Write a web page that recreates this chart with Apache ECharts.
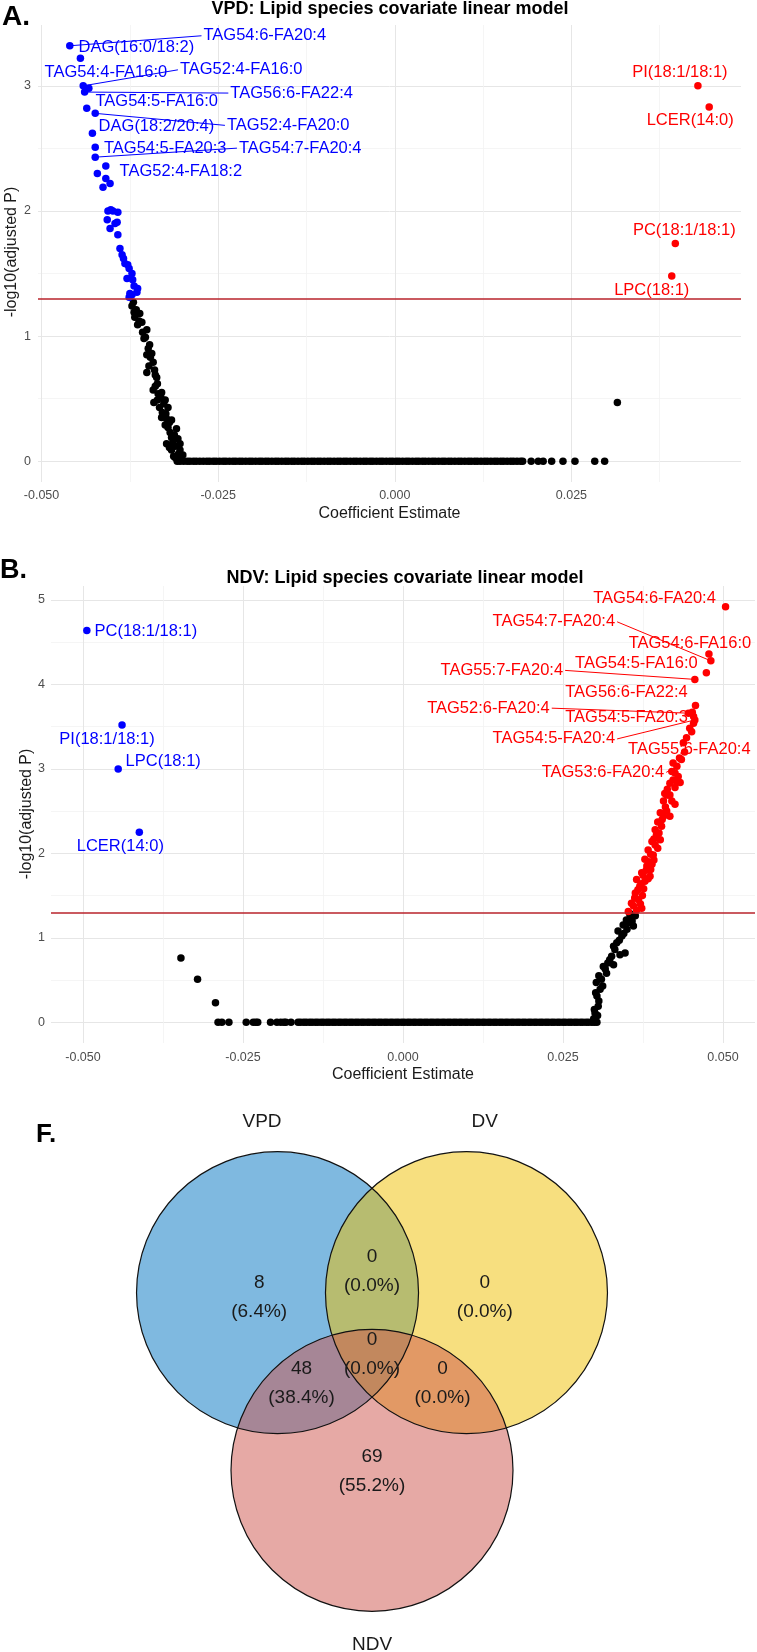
<!DOCTYPE html>
<html>
<head>
<meta charset="utf-8">
<title>Lipid species covariate linear model</title>
<script src="https://cdn.jsdelivr.net/npm/echarts@6/dist/echarts.min.js"></script>
<style>
html, body { margin: 0; padding: 0; background: #fff; }
#main { width: 757px; height: 1652px; }
</style>
</head>
<body>
<div id="main"></div>
<script>
var FONT = "'Liberation Sans', Arial, Helvetica, sans-serif";
var LABEL_SIZE = 16.5;

// ---------- A. VPD ----------
// species with adjusted p == 1 (sit on the zero line)
var vpdZeroX = [-0.0308, -0.0304, -0.0299, -0.0294, -0.0290, -0.0285, -0.0281, -0.0276, -0.0271, -0.0266,
	-0.0262, -0.0257, -0.0253, -0.0248, -0.0243, -0.0239, -0.0234, -0.0229, -0.0225, -0.0220, -0.0216,
	-0.0211, -0.0206, -0.0202, -0.0197, -0.0192, -0.0188, -0.0183, -0.0179, -0.0174, -0.0169, -0.0165,
	-0.0160, -0.0155, -0.0151, -0.0146, -0.0142, -0.0137, -0.0132, -0.0128, -0.0123, -0.0118, -0.0114,
	-0.0109, -0.0105, -0.0100, -0.0095, -0.0091, -0.0086, -0.0081, -0.0077, -0.0072, -0.0068, -0.0063,
	-0.0058, -0.0054, -0.0049, -0.0044, -0.0040, -0.0035, -0.0031, -0.0026, -0.0021, -0.0017, -0.0012,
	-0.0007, -0.0003, 0.0002, 0.0006, 0.0011, 0.0016, 0.0020, 0.0025, 0.0030, 0.0034, 0.0039, 0.0043,
	0.0048, 0.0053, 0.0057, 0.0062, 0.0067, 0.0071, 0.0076, 0.0080, 0.0085, 0.0090, 0.0094, 0.0099,
	0.0104, 0.0108, 0.0113, 0.0117, 0.0122, 0.0127, 0.0131, 0.0136, 0.0141, 0.0145, 0.0150, 0.0154,
	0.0159, 0.0164, 0.0168, 0.0173, 0.0178, 0.0181, 0.0193, 0.0203, 0.0210, 0.0222, 0.0238, 0.0255,
	0.0283, 0.0297];
var vpdBlack = [[-0.0370, 1.27], [-0.0366, 1.21], [-0.0368, 1.15], [-0.0361, 1.18], [-0.0358, 1.11],
	[-0.0351, 1.05], [-0.0355, 0.98], [-0.0347, 0.93], [-0.0351, 0.85], [-0.0344, 0.86], [-0.0342, 0.79],
	[-0.0351, 0.71], [-0.0340, 0.73], [-0.0337, 0.67], [-0.0342, 0.57], [-0.0335, 0.54], [-0.0330, 0.55],
	[-0.0341, 0.47], [-0.0325, 0.49], [-0.0333, 0.43], [-0.0321, 0.43], [-0.0330, 0.35], [-0.0323, 0.34],
	[-0.0316, 0.33], [-0.0325, 0.29], [-0.0309, 0.26], [-0.0318, 0.23], [-0.0323, 0.14], [-0.0314, 0.15],
	[-0.0304, 0.14], [-0.0316, 0.09], [-0.0304, 0.09], [-0.0311, 0.03], [-0.0300, 0.05],
	[-0.0372, 1.24], [-0.0369, 1.19], [-0.0362, 1.12], [-0.0364, 1.09], [-0.0357, 1.03], [-0.0353, 0.99],
	[-0.0349, 0.90], [-0.0346, 0.83], [-0.0348, 0.76], [-0.0339, 0.69], [-0.0336, 0.62], [-0.0339, 0.60],
	[-0.0331, 0.51], [-0.0336, 0.49], [-0.0327, 0.46], [-0.0329, 0.39], [-0.0324, 0.38], [-0.0319, 0.31],
	[-0.0321, 0.27], [-0.0312, 0.21], [-0.0316, 0.19], [-0.0307, 0.18], [-0.0311, 0.12], [-0.0319, 0.11],
	[-0.0306, 0.06], [-0.0313, 0.04], [-0.0302, 0.02], [0.0315, 0.47]];
var vpdBlue = [[-0.0421, 2.30], [-0.0409, 2.26], [-0.0413, 2.19], [-0.0403, 2.22], [-0.0406, 2.00],
	[-0.0399, 2.00], [-0.0392, 1.99], [-0.0402, 2.01], [-0.0407, 1.93], [-0.0396, 1.90], [-0.0403, 1.86],
	[-0.0393, 1.91], [-0.0392, 1.81], [-0.0389, 1.70], [-0.0386, 1.65], [-0.0384, 1.62], [-0.0382, 1.58],
	[-0.0378, 1.57], [-0.0376, 1.54], [-0.0372, 1.50], [-0.0379, 1.46], [-0.0371, 1.45], [-0.0369, 1.40],
	[-0.0364, 1.38], [-0.0365, 1.35], [-0.0375, 1.34], [-0.0372, 1.33], [-0.0376, 1.31]];
var vpdBlueLab = [[-0.0460, 3.32, 'TAG54:6-FA20:4'], [-0.0445, 3.22, 'DAG(16:0/18:2)'],
	[-0.0441, 3.00, 'TAG52:4-FA16:0'], [-0.0433, 2.98, 'TAG54:4-FA16:0'], [-0.0439, 2.95, 'TAG56:6-FA22:4'],
	[-0.0436, 2.82, 'TAG54:5-FA16:0'], [-0.0424, 2.78, 'TAG52:4-FA20:0'], [-0.0428, 2.62, 'DAG(18:2/20:4)'],
	[-0.0424, 2.51, 'TAG54:5-FA20:3'], [-0.0424, 2.43, 'TAG54:7-FA20:4'], [-0.0409, 2.36, 'TAG52:4-FA18:2']];
var vpdRedLab = [[0.0429, 3.00, 'PI(18:1/18:1)'], [0.0445, 2.83, 'LCER(14:0)'],
	[0.0397, 1.74, 'PC(18:1/18:1)'], [0.0392, 1.48, 'LPC(18:1)']];

// ---------- B. NDV ----------
var ndvZeroX = [-0.0289, -0.0283, -0.0272, -0.0245, -0.0234, -0.0230, -0.0227, -0.0207, -0.0197, -0.0191,
	-0.0186, -0.0183, -0.0175, -0.0164, -0.0160, -0.0155, -0.0151, -0.0146, -0.0142, -0.0137, -0.0133,
	-0.0128, -0.0124, -0.0119, -0.0115, -0.0110, -0.0106, -0.0101, -0.0097, -0.0092, -0.0088, -0.0083,
	-0.0079, -0.0074, -0.0070, -0.0065, -0.0061, -0.0056, -0.0052, -0.0047, -0.0043, -0.0038, -0.0034,
	-0.0029, -0.0025, -0.0020, -0.0016, -0.0011, -0.0007, -0.0002, 0.0002, 0.0007, 0.0011, 0.0016, 0.0020,
	0.0025, 0.0029, 0.0034, 0.0038, 0.0043, 0.0047, 0.0052, 0.0056, 0.0061, 0.0065, 0.0070, 0.0074,
	0.0079, 0.0083, 0.0088, 0.0092, 0.0097, 0.0101, 0.0106, 0.0110, 0.0115, 0.0119, 0.0124, 0.0128,
	0.0133, 0.0137, 0.0142, 0.0146, 0.0151, 0.0155, 0.0160, 0.0164, 0.0169, 0.0173, 0.0178, 0.0182,
	0.0187, 0.0191, 0.0196, 0.0200, 0.0205, 0.0209, 0.0214, 0.0218, 0.0223, 0.0227, 0.0232, 0.0236,
	0.0241, 0.0245, 0.0250, 0.0254, 0.0259, 0.0263, 0.0268, 0.0272, 0.0277, 0.0281, 0.0286, 0.0290,
	0.0295, 0.0299, 0.0303];
var ndvBlack = [[-0.0347, 0.76], [-0.0321, 0.51], [-0.0293, 0.23],
	[0.0300, 0.11], [0.0305, 0.19], [0.0303, 0.31], [0.0308, 0.39], [0.0302, 0.47], [0.0310, 0.51],
	[0.0318, 0.58], [0.0313, 0.66], [0.0323, 0.74], [0.0329, 0.68], [0.0331, 0.86], [0.0339, 0.80],
	[0.0334, 0.94], [0.0347, 0.82], [0.0342, 1.02], [0.0336, 1.08], [0.0350, 1.10], [0.0352, 1.18],
	[0.0360, 1.14], [0.0355, 1.25], [0.0363, 1.26],
	[0.0298, 0.04], [0.0304, 0.08], [0.0299, 0.15], [0.0306, 0.25], [0.0301, 0.35], [0.0312, 0.43],
	[0.0306, 0.55], [0.0316, 0.63], [0.0320, 0.70], [0.0326, 0.78], [0.0329, 0.90], [0.0338, 0.97],
	[0.0345, 1.05], [0.0344, 1.15], [0.0349, 1.21], [0.0358, 1.20], [0.0354, 1.29]];
var ndvRed = [[0.0352, 1.31], [0.0365, 1.33], [0.0373, 1.35], [0.0357, 1.41], [0.0368, 1.45],
	[0.0363, 1.53], [0.0370, 1.61], [0.0365, 1.69], [0.0378, 1.67], [0.0373, 1.77], [0.0386, 1.73],
	[0.0381, 1.85], [0.0389, 1.87], [0.0378, 1.93], [0.0391, 1.98], [0.0383, 2.04], [0.0394, 2.10],
	[0.0389, 2.14], [0.0402, 2.16], [0.0396, 2.22], [0.0394, 2.28], [0.0404, 2.32], [0.0407, 2.44],
	[0.0417, 2.44], [0.0402, 2.48], [0.0412, 2.50], [0.0425, 2.58], [0.0407, 2.62], [0.0415, 2.69],
	[0.0409, 2.71], [0.0417, 2.83], [0.0428, 2.85],
	[0.0360, 1.38], [0.0371, 1.40], [0.0362, 1.47], [0.0374, 1.50], [0.0367, 1.57], [0.0376, 1.58],
	[0.0372, 1.64], [0.0383, 1.70], [0.0375, 1.74], [0.0380, 1.80], [0.0387, 1.81], [0.0384, 1.90],
	[0.0392, 1.92], [0.0387, 1.99], [0.0398, 2.06], [0.0392, 2.17], [0.0400, 2.24], [0.0398, 2.37],
	[0.0405, 2.40], [0.0410, 2.55], [0.0420, 2.62], [0.0413, 2.76], [0.0425, 2.78], [0.0430, 2.91],
	[0.0420, 2.97], [0.0432, 3.13], [0.0440, 3.20], [0.0443, 3.37], [0.0448, 3.48], [0.0452, 3.67],
	[0.0454, 3.54], [0.0451, 3.44], [0.0435, 3.11], [0.0422, 3.07], [0.0425, 2.95], [0.0422, 2.87],
	[0.0433, 2.84], [0.0417, 2.69], [0.0412, 2.69]];
var ndvBlueLab = [[-0.0494, 4.64, 'PC(18:1/18:1)'], [-0.0439, 3.52, 'PI(18:1/18:1)'],
	[-0.0445, 3.00, 'LPC(18:1)'], [-0.0412, 2.25, 'LCER(14:0)']];
var ndvRedLab = [[0.0504, 4.92, 'TAG54:6-FA20:4'], [0.0481, 4.28, 'TAG54:7-FA20:4'],
	[0.0478, 4.36, 'TAG54:6-FA16:0'], [0.0456, 4.06, 'TAG55:7-FA20:4'], [0.0474, 4.14, 'TAG54:5-FA16:0'],
	[0.0457, 3.75, 'TAG56:6-FA22:4'], [0.0446, 3.66, 'TAG52:6-FA20:4'], [0.0454, 3.62, 'TAG54:5-FA20:3'],
	[0.0456, 3.58, 'TAG54:5-FA20:4'], [0.0438, 3.31, 'TAG55:6-FA20:4'], [0.0428, 3.03, 'TAG53:6-FA20:4']];

// axis breaks
var xTicksA = [-0.05, -0.025, 0, 0.025];
var xMinorA = [-0.0375, -0.0125, 0.0125, 0.0375];
var yTicksA = [0, 1, 2, 3];
var yMinorA = [0.5, 1.5, 2.5];
var xTicksB = [-0.05, -0.025, 0, 0.025, 0.05];
var xMinorB = [-0.0375, -0.0125, 0.0125, 0.0375];
var yTicksB = [0, 1, 2, 3, 4, 5];
var yMinorB = [0.5, 1.5, 2.5, 3.5, 4.5];
var pCut = 1.301; // -log10(0.05)

// ---------- F. Venn ----------
var vennSets = ['VPD', 'DV', 'NDV'];
var vennCounts = [8, 0, 0, 0, 48, 0, 69]; // VPD, VPD&DV, DV, all, VPD&NDV, DV&NDV, NDV
var vennPct = ['6.4%', '0.0%', '0.0%', '0.0%', '38.4%', '0.0%', '55.2%'];

// label nudges: [dx, dy, draw segment] in px, label centre relative to point
var nudgeA = {
	'TAG54:6-FA20:4': [195, -10, 1], 'DAG(16:0/18:2)': [56, -11, 0], 'TAG52:4-FA16:0': [158, -16, 1],
	'TAG54:4-FA16:0': [17, -16, 0], 'TAG56:6-FA22:4': [207, 1, 1], 'TAG54:5-FA16:0': [70, -7, 0],
	'DAG(18:2/20:4)': [64, -7, 0], 'TAG52:4-FA20:0': [193, 12, 1], 'TAG54:5-FA20:3': [70, 1, 0],
	'TAG54:7-FA20:4': [205, -9, 1], 'TAG52:4-FA18:2': [75, 6, 0],
	'PI(18:1/18:1)': [-18, -13, 0], 'LCER(14:0)': [-19, 13, 0], 'PC(18:1/18:1)': [9, -13, 0],
	'LPC(18:1)': [-20, 14, 0]
};
var nudgeB = {
	'PC(18:1/18:1)': [59, 1, 0], 'PI(18:1/18:1)': [-15, 14, 0], 'LPC(18:1)': [45, -7, 0],
	'LCER(14:0)': [-19, 14, 0],
	'TAG54:6-FA20:4': [-71, -8, 0], 'TAG54:7-FA20:4': [-157, -39, 1], 'TAG54:6-FA16:0': [-19, -11, 0],
	'TAG55:7-FA20:4': [-193, -9, 1], 'TAG54:5-FA16:0': [-70, -9, 0], 'TAG56:6-FA22:4': [-69, -13, 0],
	'TAG52:6-FA20:4': [-200, -5, 1], 'TAG54:5-FA20:3': [-67, 1, 0], 'TAG54:5-FA20:4': [-141, 19, 1],
	'TAG55:6-FA20:4': [6, 7, 0], 'TAG53:6-FA20:4': [-74, 6, 1]
};
// venn layout, in circle radii
var vennCentre = [[-0.67, 0.63], [0.67, 0.63], [0, -0.63]];
var vennRegionPos = [[-0.80, 0.60], [0, 0.78], [0.80, 0.60], [0, 0.19], [-0.50, -0.01], [0.50, -0.01], [0, -0.64]];
var vennSetPos = [[-0.78, 1.84], [0.80, 1.84], [0, -1.87]];
var vennFill = ['rgba(0,115,194,0.5)', 'rgba(239,192,0,0.5)', 'rgba(205,83,76,0.5)'];

var measureCtx = document.createElement('canvas').getContext('2d');
measureCtx.font = LABEL_SIZE + 'px ' + FONT;
function textWidth(s) {
	return measureCtx.measureText(s).width;
}

function zeroPts(xs) {
	return xs.map(function (x) { return [x, 0]; });
}
function xy(arr) {
	return arr.map(function (p) { return [p[0], p[1]]; });
}
function dots(data, color, ai, markLine) {
	var s = {
		type: 'scatter',
		xAxisIndex: ai.x,
		yAxisIndex: ai.y,
		data: data,
		symbolSize: 7.5,
		silent: true,
		itemStyle: { color: color, opacity: 1 }
	};
	if (markLine) {
		s.markLine = {
			silent: true, symbol: 'none', label: { show: false },
			lineStyle: { color: '#B8232B', width: 1.6, type: 'solid' },
			data: [{ yAxis: pCut }]
		};
	}
	return s;
}
// repel-style text labels: text nudged off the point, segment to the near edge
function labels(arr, nudge, color, ai) {
	return {
		type: 'custom',
		xAxisIndex: ai.x,
		yAxisIndex: ai.y,
		silent: true,
		clip: false,
		z: 5,
		data: arr.map(function (p, i) { return [p[0], p[1], i]; }),
		renderItem: function (params, api) {
			var name = arr[api.value(2)][2];
			var n = nudge[name];
			var p = api.coord([api.value(0), api.value(1)]);
			var cx = p[0] + n[0], cy = p[1] + n[1];
			var kids = [];
			if (n[2]) {
				var hw = textWidth(name) / 2 + 2;
				var ex = n[0] > 0 ? cx - hw : cx + hw;
				kids.push({
					type: 'line',
					shape: { x1: p[0], y1: p[1], x2: ex, y2: cy },
					style: { stroke: color, lineWidth: 1 }
				});
			}
			kids.push({
				type: 'text', x: cx, y: cy,
				style: {
					text: name, align: 'center', verticalAlign: 'middle',
					fontSize: LABEL_SIZE, fontFamily: FONT, fill: color
				}
			});
			return { type: 'group', children: kids };
		}
	};
}
function majorAxis(grid, min, max, ticks, dec, name, gap, margin) {
	return {
		type: 'value', gridIndex: grid, min: min, max: max,
		axisLine: { show: false },
		axisTick: { show: false, customValues: ticks },
		axisLabel: {
			customValues: ticks, color: '#4d4d4d', fontSize: 12.5, fontFamily: FONT, margin: margin,
			formatter: function (v) { return v.toFixed(dec); }
		},
		splitLine: { show: true, lineStyle: { color: '#e6e6e6', width: 1 } },
		name: name, nameLocation: 'middle', nameGap: gap,
		nameTextStyle: { color: '#1a1a1a', fontSize: 16, fontFamily: FONT }
	};
}
function minorAxis(grid, min, max, ticks) {
	return {
		type: 'value', gridIndex: grid, min: min, max: max,
		axisLine: { show: false },
		axisTick: { show: false, customValues: ticks },
		axisLabel: { show: false, customValues: ticks },
		splitLine: { show: true, lineStyle: { color: '#f3f3f3', width: 0.8 } }
	};
}
function vennCircles(style) {
	return {
		type: 'custom', xAxisIndex: 4, yAxisIndex: 4, silent: true, clip: false,
		data: vennCentre.map(function (c, i) { return [c[0], c[1], 1, i]; }),
		renderItem: function (params, api) {
			var p = api.coord([api.value(0), api.value(1)]);
			var s = api.size([api.value(2), api.value(2)]);
			return { type: 'circle', shape: { cx: p[0], cy: p[1], r: s[0] }, style: style(api.value(3)) };
		}
	};
}
function vennText(pos, textOf) {
	return {
		type: 'custom', xAxisIndex: 4, yAxisIndex: 4, silent: true, clip: false,
		data: pos.map(function (p, i) { return [p[0], p[1], i]; }),
		renderItem: function (params, api) {
			var p = api.coord([api.value(0), api.value(1)]);
			return {
				type: 'text', x: p[0], y: p[1],
				style: {
					text: textOf(api.value(2)), align: 'center', verticalAlign: 'middle',
					fontSize: 19, fontFamily: FONT, lineHeight: 29, fill: '#1a1a1a'
				}
			};
		}
	};
}

var A = { x: 0, y: 0 }, B = { x: 2, y: 2 };

var series = [
	dots(zeroPts(vpdZeroX).concat(vpdBlack), '#000000', A, true),
	dots(vpdBlue.concat(xy(vpdBlueLab)), '#0000FF', A),
	dots(xy(vpdRedLab), '#FF0000', A),
	labels(vpdBlueLab, nudgeA, '#0000FF', A),
	labels(vpdRedLab, nudgeA, '#FF0000', A),

	dots(zeroPts(ndvZeroX).concat(ndvBlack), '#000000', B, true),
	dots(xy(ndvBlueLab), '#0000FF', B),
	dots(ndvRed.concat(xy(ndvRedLab)), '#FF0000', B),
	labels(ndvBlueLab, nudgeB, '#0000FF', B),
	labels(ndvRedLab, nudgeB, '#FF0000', B),

	vennCircles(function (i) { return { fill: vennFill[i] }; }),
	vennCircles(function () { return { fill: 'none', stroke: '#111', lineWidth: 1.2 }; }),
	vennText(vennRegionPos, function (i) { return vennCounts[i] + '\n(' + vennPct[i] + ')'; }),
	vennText(vennSetPos, function (i) { return vennSets[i]; })
];

var myChart = echarts.init(document.getElementById('main'), null, { renderer: 'canvas' });

var option = {
	animation: false,
	backgroundColor: '#ffffff',
	grid: [
		{ left: 38, top: 25, width: 703, height: 457, containLabel: false, outerBoundsMode: 'none' },
		{ left: 51, top: 586, width: 704, height: 457, containLabel: false, outerBoundsMode: 'none' },
		{ left: 19.5, top: 1113.6, width: 705, height: 535.8, containLabel: false, outerBoundsMode: 'none' }
	],
	xAxis: [
		majorAxis(0, -0.0505, 0.049, xTicksA, 3, 'Coefficient Estimate', 24, 7),
		minorAxis(0, -0.0505, 0.049, xMinorA),
		majorAxis(1, -0.055, 0.055, xTicksB, 3, 'Coefficient Estimate', 24, 8),
		minorAxis(1, -0.055, 0.055, xMinorB),
		{ type: 'value', gridIndex: 2, min: -2.5, max: 2.5, show: false }
	],
	yAxis: [
		majorAxis(0, -0.166, 3.486, yTicksA, 0, '', 0, 7),
		minorAxis(0, -0.166, 3.486, yMinorA),
		majorAxis(1, -0.246, 5.166, yTicksB, 0, '', 0, 6),
		minorAxis(1, -0.246, 5.166, yMinorB),
		{ type: 'value', gridIndex: 2, min: -1.9, max: 1.9, show: false }
	],
	graphic: [
		{ type: 'text', x: 2, y: 17, style: { text: 'A.', fontSize: 28, fontWeight: 'bold', fontFamily: FONT, fill: '#000', verticalAlign: 'middle' } },
		{ type: 'text', x: 390, y: 9, style: { text: 'VPD: Lipid species covariate linear model', fontSize: 18, fontWeight: 'bold', fontFamily: FONT, fill: '#000', align: 'center', verticalAlign: 'middle' } },
		{ type: 'text', x: 11.5, y: 252, rotation: Math.PI / 2, style: { text: '-log10(adjusted P)', fontSize: 16, fontFamily: FONT, fill: '#1a1a1a', align: 'center', verticalAlign: 'middle' } },
		{ type: 'text', x: 0, y: 571, style: { text: 'B.', fontSize: 27, fontWeight: 'bold', fontFamily: FONT, fill: '#000', verticalAlign: 'middle' } },
		{ type: 'text', x: 405, y: 578, style: { text: 'NDV: Lipid species covariate linear model', fontSize: 18, fontWeight: 'bold', fontFamily: FONT, fill: '#000', align: 'center', verticalAlign: 'middle' } },
		{ type: 'text', x: 27, y: 814, rotation: Math.PI / 2, style: { text: '-log10(adjusted P)', fontSize: 16, fontFamily: FONT, fill: '#1a1a1a', align: 'center', verticalAlign: 'middle' } },
		{ type: 'text', x: 36, y: 1135, style: { text: 'F.', fontSize: 26, fontWeight: 'bold', fontFamily: FONT, fill: '#000', verticalAlign: 'middle' } }
	],
	series: series
};

myChart.setOption(option);
</script>
</body>
</html>
